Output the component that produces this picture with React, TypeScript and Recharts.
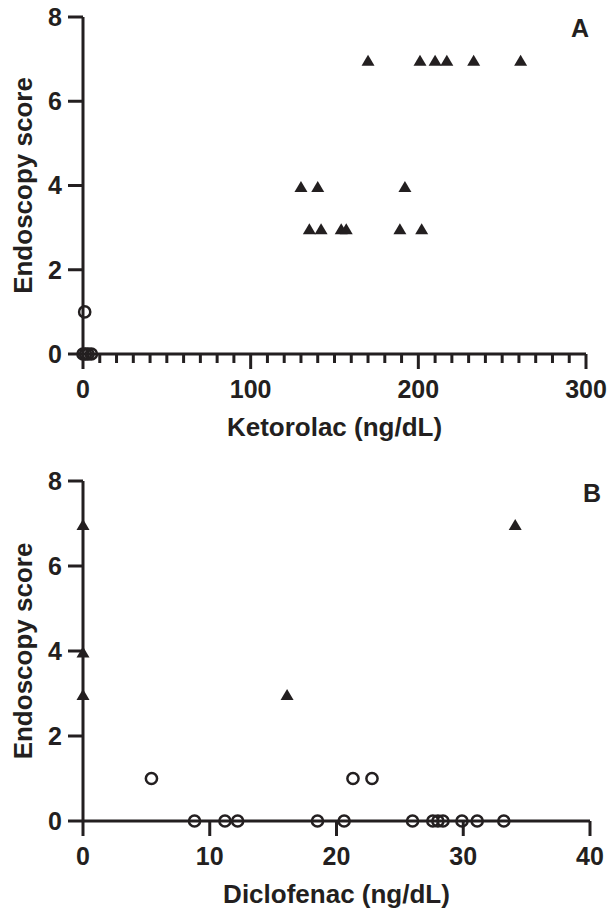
import { ScatterChart, Scatter, XAxis, YAxis, Label } from 'recharts';

const INK = '#231f20';
const FONT = '"Liberation Sans", Arial, Helvetica, sans-serif';

// Panel A - ketorolac
const ketoTriX = [170, 201, 210, 217, 233, 261, 130, 140, 192, 135, 142, 154, 157, 189, 202];
const ketoTriY = [7, 7, 7, 7, 7, 7, 4, 4, 4, 3, 3, 3, 3, 3, 3];
const ketoCircX = [1, 0, 1.5, 3, 5];
const ketoCircY = [1, 0, 0, 0, 0];
const ketoTicks = [0, 10, 20, 30, 40, 50, 60, 70, 80, 90, 100, 110, 120, 130, 140, 150, 160, 170, 180, 190, 200, 210, 220, 230, 240, 250, 260, 270, 280, 290, 300];

// Panel B - diclofenac
const dicloTriX = [0, 0, 0, 16.1, 34.1];
const dicloTriY = [7, 4, 3, 3, 7];
const dicloCircX = [5.4, 21.3, 22.8, 8.8, 11.2, 12.2, 18.5, 20.6, 26.0, 27.6, 28.0, 28.4, 29.9, 31.1, 33.2];
const dicloCircY = [1, 1, 1, 0, 0, 0, 0, 0, 0, 0, 0, 0, 0, 0, 0];
const dicloTicks = [0, 10, 20, 30, 40];

const scoreTicks = [0, 2, 4, 6, 8];

const toPoints = (xs: number[], ys: number[]) => xs.map((x, i) => ({ x, y: ys[i] }));

const TICK_LEN = 15;
const TICK_GAP = 11;

function Triangle(props: any) {
  const { cx, cy } = props;
  if (cx == null || cy == null) return null;
  return (
    <polygon
      points={`${cx},${cy - 4.5} ${cx + 6.5},${cy + 6.5} ${cx - 6.5},${cy + 6.5}`}
      fill={INK}
    />
  );
}

function OpenCircle(props: any) {
  const { cx, cy } = props;
  if (cx == null || cy == null) return null;
  return <circle cx={cx} cy={cy} r={5.6} fill="none" stroke={INK} strokeWidth={2.5} />;
}

function makeXTick(majorEvery: number) {
  return function XTick(props: any) {
    const { x, y, payload } = props;
    const v = payload.value as number;
    const major = v % majorEvery === 0;
    const axisY = y - TICK_LEN - TICK_GAP;
    return (
      <g>
        <line x1={x} x2={x} y1={axisY} y2={axisY + (major ? TICK_LEN : 9)} stroke={INK} strokeWidth={3} />
        {major && (
          <text x={x} y={y} dy={18} textAnchor="middle" fill={INK} fontSize={25} fontWeight="bold" fontFamily={FONT}>
            {v}
          </text>
        )}
      </g>
    );
  };
}

const tickStyle = { fill: INK, fontSize: 25, fontWeight: 'bold', fontFamily: FONT };
const titleStyle = { fill: INK, fontSize: 26, fontWeight: 'bold', fontFamily: FONT };

function Panel({
  xTicks,
  xMax,
  majorEvery,
  xTitle,
  tri,
  circ,
  height,
  margin,
  xAxisHeight,
  titleOffset,
}: {
  xTicks: number[];
  xMax: number;
  majorEvery: number;
  xTitle: string;
  tri: { x: number; y: number }[];
  circ: { x: number; y: number }[];
  height: number;
  margin: { top: number; right: number; bottom: number; left: number };
  xAxisHeight: number;
  titleOffset: number;
}) {
  return (
    <ScatterChart width={608} height={height} margin={margin}>
      <XAxis
        type="number"
        dataKey="x"
        domain={[0, xMax]}
        ticks={xTicks}
        interval={0}
        height={xAxisHeight}
        tickSize={TICK_LEN}
        tickMargin={TICK_GAP}
        tickLine={false}
        axisLine={{ stroke: INK, strokeWidth: 3 }}
        tick={makeXTick(majorEvery)}
      >
        <Label value={xTitle} position="insideBottom" offset={titleOffset} style={titleStyle} />
      </XAxis>
      <YAxis
        type="number"
        dataKey="y"
        domain={[0, 8]}
        ticks={scoreTicks}
        interval={0}
        width={60}
        tickSize={TICK_LEN}
        tickMargin={6}
        tickLine={{ stroke: INK, strokeWidth: 3 }}
        axisLine={{ stroke: INK, strokeWidth: 3 }}
        tick={tickStyle}
      >
        <Label
          value="Endoscopy score"
          angle={-90}
          position="insideLeft"
          offset={0}
          style={{ ...titleStyle, textAnchor: 'middle' }}
        />
      </YAxis>
      <Scatter data={circ} shape={OpenCircle} isAnimationActive={false} />
      <Scatter data={tri} shape={Triangle} isAnimationActive={false} />
    </ScatterChart>
  );
}

export default function App() {
  return (
    <div style={{ position: 'absolute', left: 0, top: 0, width: 608, height: 910, background: '#fff' }}>
      <div style={{ position: 'absolute', left: 0, top: 0 }}>
        <Panel
          xTicks={ketoTicks}
          xMax={300}
          majorEvery={100}
          xTitle="Ketorolac (ng/dL)"
          tri={toPoints(ketoTriX, ketoTriY)}
          circ={toPoints(ketoCircX, ketoCircY)}
          height={460}
          margin={{ top: 17, right: 22, bottom: 6, left: 23 }}
          xAxisHeight={100}
          titleOffset={18}
        />
      </div>
      <div style={{ position: 'absolute', left: 0, top: 460 }}>
        <Panel
          xTicks={dicloTicks}
          xMax={40}
          majorEvery={10}
          xTitle="Diclofenac (ng/dL)"
          tri={toPoints(dicloTriX, dicloTriY)}
          circ={toPoints(dicloCircX, dicloCircY)}
          height={450}
          margin={{ top: 21, right: 18, bottom: 5, left: 23 }}
          xAxisHeight={84}
          titleOffset={2}
        />
      </div>
      <svg width={608} height={910} style={{ position: 'absolute', left: 0, top: 0, pointerEvents: 'none' }}>
        <text x={580} y={37} textAnchor="middle" fill={INK} fontSize={25} fontWeight="bold" fontFamily={FONT}>
          A
        </text>
        <text x={592} y={502} textAnchor="middle" fill={INK} fontSize={25} fontWeight="bold" fontFamily={FONT}>
          B
        </text>
      </svg>
    </div>
  );
}
